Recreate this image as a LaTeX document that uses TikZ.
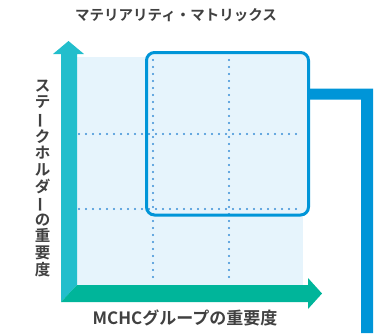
\documentclass[tikz,border=0pt]{standalone}
\usepackage{fontspec}
\newfontfamily\jp{Noto Sans CJK JP}[BoldFont={Noto Sans CJK JP Bold}]
\definecolor{txtgray}{HTML}{404040}
\definecolor{paleblue}{HTML}{E6F4FC}
\definecolor{dotblue}{HTML}{3A8ED6}
\definecolor{frameblue}{HTML}{0095D8}
\definecolor{axisteal}{HTML}{22BECC}
\definecolor{axisgreen}{HTML}{00B59A}
% prolonged sound mark turned for vertical writing
\newcommand\vchoon{\rotatebox[origin=c]{90}{ー}}
\tikzset{
  label/.style={text=txtgray, font=\jp\bfseries\fontsize{14.5}{16.6}\selectfont, inner sep=0pt},
  biglabel/.style={label, font=\jp\bfseries\fontsize{17}{17}\selectfont},
  gridline/.style={dotblue, line width=2.3pt, line cap=round, dash pattern=on 0pt off 7pt},
}
\begin{document}
\begin{tikzpicture}[x=1pt,y=-1pt]
\useasboundingbox (0,0) rectangle (382,333);
% plotting area
\fill[paleblue] (77,57) rectangle (303,285);
\fill[paleblue, rounded corners=8pt] (146.5,52.5) rectangle (308.5,215);
% grid
\coordinate (g1t) at (153,60); \coordinate (g1b) at (153,284);
\coordinate (g2t) at (229,60); \coordinate (g2b) at (229,284);
\coordinate (h1l) at (79,134); \coordinate (h1r) at (303,134);
\coordinate (h2l) at (79,209); \coordinate (h2r) at (303,209);
\draw[gridline] (g1t) -- (g1b);
\draw[gridline] (g2t) -- (g2b);
\draw[gridline] (h1l) -- (h1r);
\draw[gridline] (h2l) -- (h2r);
% highlighted region
\draw[frameblue, line width=3pt, rounded corners=8pt] (146.5,52.5) rectangle (308.5,215);
% connector bracket
\fill[frameblue] (308,88.5) -- (373,88.5) -- (373,333) -- (361,333) -- (361,99.5) -- (308,99.5) -- cycle;
% vertical axis
\fill[axisteal] (61,54) -- (53,54) -- (68.5,41) -- (84,54) -- (77,54) -- (77,285) -- (61,302) -- cycle;
% horizontal axis
\fill[axisgreen] (61,302) -- (77,285) -- (308,285) -- (308,278) -- (322,293.5) -- (308,309) -- (308,302) -- cycle;
% labels
\node[label] (title) at (176,15) {マテリアリティ・マトリックス};
\node[biglabel] (xlab) at (185,318) {MCHCグループの重要度};
\node[label, font=\jp\bfseries\fontsize{15.5}{16.6}\selectfont, align=center] (ylab) at (42.5,178) {ス\\テ\\\vchoon\\ク\\ホ\\ル\\ダ\\\vchoon\\の\\重\\要\\度};
\end{tikzpicture}
\end{document}
